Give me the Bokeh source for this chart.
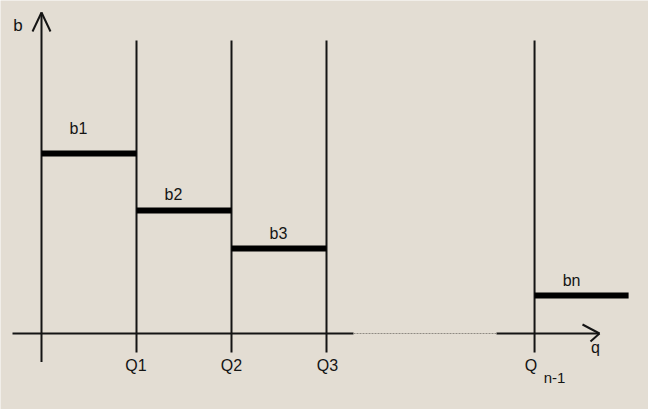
from bokeh.plotting import figure
from bokeh.models import Range1d, ColumnDataSource
from bokeh.core.properties import value
from bokeh.embed import file_html
from bokeh.resources import INLINE

# ---- data ----
q_labels = ["Q1", "Q2", "Q3", "Q"]
q_breaks = [1.0, 2.0, 3.0, 5.19]          # Q1, Q2, Q3, Q(n-1)
b_labels = ["b1", "b2", "b3", "bn"]
b_values = [6.0, 4.1, 2.83, 1.27]
seg_start = [0.0, 1.0, 2.0, 5.19]
seg_end = [1.0, 2.0, 3.0, 6.18]

# ---- layout / scale (styles) ----
W, H = 648, 409
OX, OY = 41, 333          # origin position in canvas pixels
SX, SY = 95.0, 30.0       # pixels per data unit
INK = "#141414"
BG = "#e3ddd3"
FONT = value("Liberation Sans")


def dx(px):
    return px / SX


def dy(px):
    return px / SY


p = figure(width=W, height=H, output_backend="svg", toolbar_location=None,
           x_range=Range1d(-OX / SX, (W - OX) / SX),
           y_range=Range1d(-(H - OY) / SY, OY / SY),
           min_border=0, background_fill_color=BG, border_fill_color=BG)
p.axis.visible = False
p.grid.visible = False
p.outline_line_color = None

# vertical boundary lines at Q values
p.segment(x0=q_breaks, y0=[-dy(19)] * len(q_breaks), x1=q_breaks,
          y1=[dy(293)] * len(q_breaks), line_color=INK, line_width=2)

# b axis with arrow
p.segment(x0=[0], y0=[-dy(28.5)], x1=[0], y1=[dy(321)], line_color=INK, line_width=2)
p.segment(x0=[-dx(9), dx(9)], y0=[dy(302), dy(302)], x1=[0, 0], y1=[dy(321), dy(321)],
          line_color=INK, line_width=2)

# q axis: solid, thin dotted gap, solid with arrow
xa0, xa1, xa2, xtip = -dx(29), dx(312), dx(455), dx(558)
p.segment(x0=[xa0, xa2], y0=[0, 0], x1=[xa1, xtip], y1=[0, 0], line_color=INK, line_width=2)
p.segment(x0=[xa1], y0=[0], x1=[xa2], y1=[0], line_color="#8f8a83", line_width=1,
          line_dash="2 1")
p.segment(x0=[xtip - dx(17), xtip - dx(9)], y0=[dy(9), -dy(8)], x1=[xtip, xtip], y1=[0, 0],
          line_color=INK, line_width=2)

# step bars
p.segment(x0=seg_start, y0=b_values, x1=seg_end, y1=b_values, line_color="#000000",
          line_width=6, line_cap="butt")

# bar labels
lab_dx = [-10.5, -10.5, -0.5, -10]
lab_dy = [24.7, 16, 15, 15]
bsrc = ColumnDataSource(dict(
    x=[(s + e) / 2 + dx(o) for s, e, o in zip(seg_start, seg_end, lab_dx)],
    y=[b + dy(o) for b, o in zip(b_values, lab_dy)],
    t=b_labels))
p.text(x="x", y="y", text="t", source=bsrc, text_font=FONT, text_font_size="16px",
       text_align="center", text_baseline="middle", text_color=INK)

# Q labels
q_dx = [-0.5, 0, 1, -3.5]
qsrc = ColumnDataSource(dict(x=[q + dx(o) for q, o in zip(q_breaks, q_dx)],
                             y=[-dy(32)] * len(q_breaks), t=q_labels))
p.text(x="x", y="y", text="t", source=qsrc, text_font=FONT, text_font_size="16px",
       text_align="center", text_baseline="middle", text_color=INK)
p.text(x=[q_breaks[-1] + dx(20)], y=[-dy(44)], text=["n-1"], text_font=FONT,
       text_font_size="15px", text_align="center", text_baseline="middle", text_color=INK)

# axis names
p.text(x=[-dx(23.5)], y=[dy(308)], text=["b"], text_font=FONT, text_font_size="17px",
       text_align="center", text_baseline="middle", text_color=INK)
p.text(x=[xtip - dx(4)], y=[-dy(14)], text=["q"], text_font=FONT, text_font_size="16px",
       text_align="center", text_baseline="middle", text_color=INK)

open("out.html", "w").write(file_html(p, INLINE))
